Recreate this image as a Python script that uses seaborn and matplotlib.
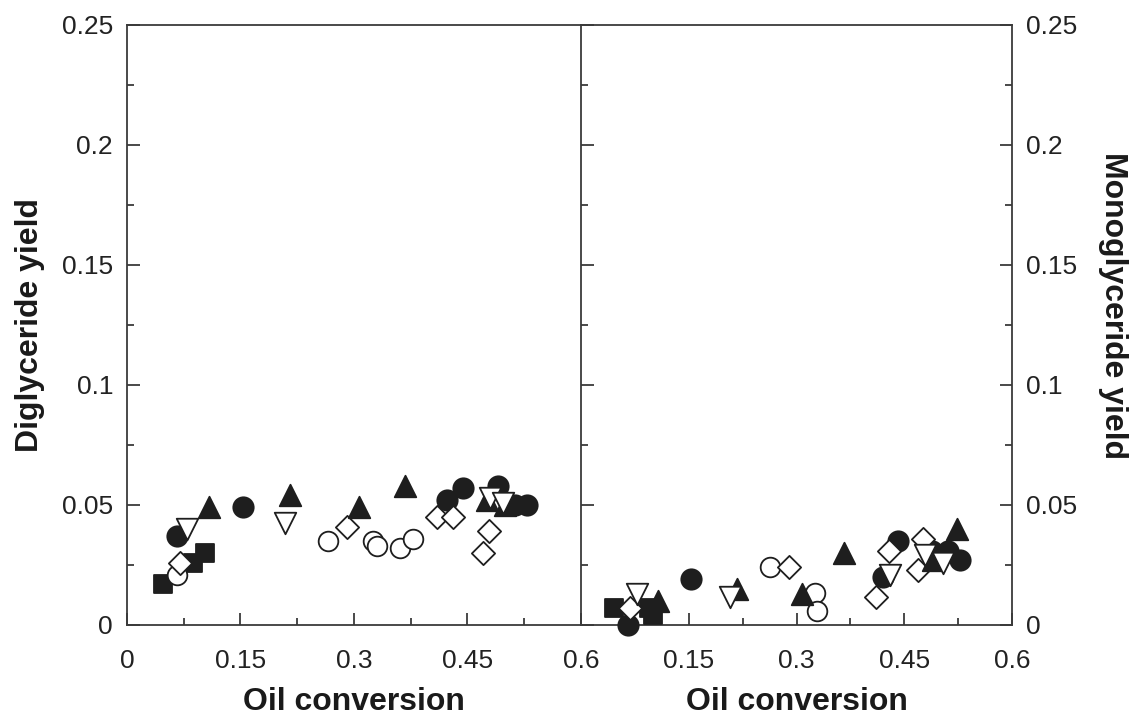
import numpy as np
import pandas as pd
import matplotlib
matplotlib.use("Agg")
import matplotlib.pyplot as plt
import seaborn as sns
from matplotlib.ticker import MultipleLocator, FuncFormatter

sns.set_style("ticks")
plt.rcParams['font.family'] = ['Liberation Sans', 'DejaVu Sans']

# ---------------- Data: Diglyceride (left panel) ----------------
dg_sq_x = [0.048, 0.087, 0.103]
dg_sq_y = [0.017, 0.026, 0.030]
dg_oc_x = [0.066, 0.266, 0.325, 0.330, 0.361, 0.378]
dg_oc_y = [0.021, 0.035, 0.035, 0.033, 0.032, 0.036]
dg_fc_x = [0.066, 0.153, 0.423, 0.444, 0.490, 0.513, 0.529]
dg_fc_y = [0.037, 0.049, 0.052, 0.057, 0.058, 0.050, 0.050]
dg_od_x = [0.070, 0.291, 0.410, 0.431, 0.470, 0.478]
dg_od_y = [0.026, 0.041, 0.045, 0.045, 0.030, 0.039]
dg_ft_x = [0.108, 0.215, 0.307, 0.367, 0.476, 0.500]
dg_ft_y = [0.049, 0.054, 0.049, 0.058, 0.052, 0.050]
dg_ot_x = [0.079, 0.209, 0.480, 0.497]
dg_ot_y = [0.040, 0.0425, 0.053, 0.051]

# ---------------- Data: Monoglyceride (right panel) ----------------
mg_sq_x = [0.046, 0.095, 0.100]
mg_sq_y = [0.007, 0.007, 0.004]
mg_oc_x = [0.263, 0.326, 0.329]
mg_oc_y = [0.024, 0.0135, 0.006]
mg_fc_x = [0.066, 0.153, 0.420, 0.441, 0.489, 0.511, 0.528]
mg_fc_y = [0.000, 0.019, 0.020, 0.035, 0.031, 0.031, 0.027]
mg_od_x = [0.068, 0.290, 0.410, 0.429, 0.469, 0.476]
mg_od_y = [0.007, 0.024, 0.0115, 0.031, 0.023, 0.036]
mg_ft_x = [0.107, 0.217, 0.308, 0.366, 0.490, 0.523]
mg_ft_y = [0.010, 0.015, 0.013, 0.030, 0.027, 0.040]
mg_ot_x = [0.078, 0.207, 0.430, 0.479, 0.504]
mg_ot_y = [0.013, 0.0115, 0.021, 0.029, 0.026]

x_label = "Oil conversion"
y_left_label = "Diglyceride yield"
y_right_label = "Monoglyceride yield"

INK = "#1e1e1e"
AX = "#3a3a3a"

styles = [
    # (marker, face, size)
    ("s", INK, 175),
    ("o", "white", 200),
    ("o", INK, 215),
    ("D", "white", 140),
    ("^", INK, 240),
    ("v", "white", 240),
]

fig = plt.figure(figsize=(11.34, 7.17), dpi=100)
W, H = 1134, 717
bottom = 1 - 625 / H
top = 1 - 25 / H
axL = fig.add_axes([127 / W, bottom, (581 - 127) / W, top - bottom])
axR = fig.add_axes([581 / W, bottom, (1012 - 581) / W, top - bottom])

left_sets = [(dg_sq_x, dg_sq_y), (dg_oc_x, dg_oc_y), (dg_fc_x, dg_fc_y),
             (dg_od_x, dg_od_y), (dg_ft_x, dg_ft_y), (dg_ot_x, dg_ot_y)]
right_sets = [(mg_sq_x, mg_sq_y), (mg_oc_x, mg_oc_y), (mg_fc_x, mg_fc_y),
              (mg_od_x, mg_od_y), (mg_ft_x, mg_ft_y), (mg_ot_x, mg_ot_y)]

for ax, sets in ((axL, left_sets), (axR, right_sets)):
    for (xs, ys), (mk, face, sz) in zip(sets, styles):
        df = pd.DataFrame({"x": xs, "y": ys})
        sns.scatterplot(data=df, x="x", y="y", ax=ax, marker=mk, s=sz,
                        color=face, edgecolor=INK, linewidth=1.3, legend=False,
                        zorder=3, clip_on=False)
    ax.set_xlim(0, 0.6)
    ax.set_ylim(0, 0.25)
    ax.xaxis.set_major_locator(MultipleLocator(0.15))
    ax.xaxis.set_minor_locator(MultipleLocator(0.075))
    ax.yaxis.set_major_locator(MultipleLocator(0.05))
    ax.yaxis.set_minor_locator(MultipleLocator(0.025))
    fmt = FuncFormatter(lambda v, p: "0" if abs(v) < 1e-9 else ("%g" % round(v, 3)))
    ax.xaxis.set_major_formatter(fmt)
    ax.yaxis.set_major_formatter(fmt)
    for sp in ax.spines.values():
        sp.set_visible(True)
        sp.set_color(AX)
        sp.set_linewidth(1.3)
    ax.tick_params(which="both", direction="in", colors=AX, width=1.3,
                   labelsize=19, labelcolor="#222222")
    ax.tick_params(axis="y", pad=10)
    ax.tick_params(axis="x", pad=17)
    ax.tick_params(which="major", length=9)
    ax.tick_params(which="minor", length=5)
    ax.tick_params(axis="x", top=False, which="both")
    ax.set_xlabel(x_label, fontsize=23, fontweight="bold", labelpad=10, color="#1a1a1a")

axL.tick_params(axis="y", which="both", left=True, right=False)
axL.set_ylabel(y_left_label, fontsize=23, fontweight="bold", labelpad=12, color="#1a1a1a")

axR.tick_params(axis="y", which="both", left=True, right=True,
                labelleft=False, labelright=True)
axR.yaxis.set_label_position("right")
axR.set_ylabel(y_right_label, fontsize=23, fontweight="bold", rotation=270,
               color="#1a1a1a", va="center")
axR.yaxis.set_label_coords(1.2345, 0.532)
# hide the right panel's "0" x tick label (shared with left's 0.6)
axR.set_xticks([0, 0.15, 0.3, 0.45, 0.6])
axR.set_xticklabels(["", "0.15", "0.3", "0.45", "0.6"])
axL.spines["right"].set_visible(False)

fig.savefig("out.png", dpi=100)
